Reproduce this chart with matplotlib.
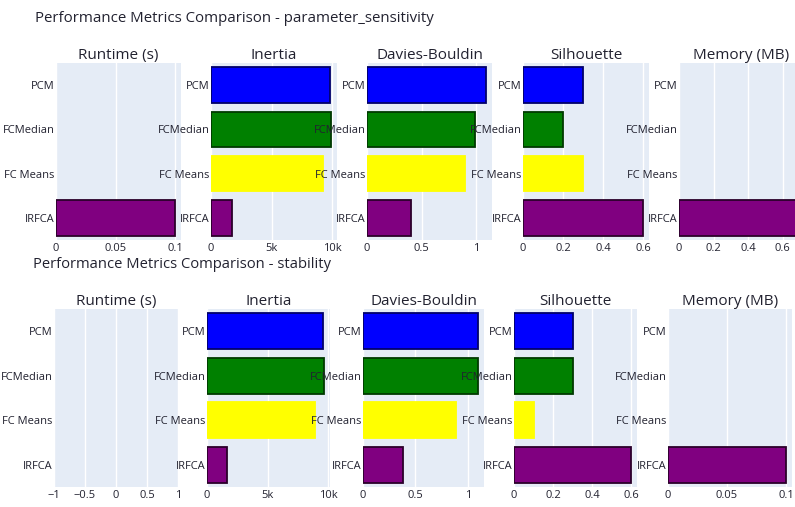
import numpy as np
import matplotlib
matplotlib.use('Agg')
import matplotlib.pyplot as plt
from matplotlib.ticker import MaxNLocator, FuncFormatter

plt.rcParams['font.family'] = ['Open Sans', 'DejaVu Sans']

# methods listed top to bottom as shown
methods = ['PCM', 'FCMedian', 'FC Means', 'IRFCA']
colors = ['blue', 'green', 'yellow', 'purple']
edges = ['#00006a', '#003a00', 'yellow', '#2a002a']
metrics = ['Runtime (s)', 'Inertia', 'Davies-Bouldin', 'Silhouette', 'Memory (MB)']

nan = np.nan
# parameter_sensitivity experiment
ps_runtime = [nan, nan, nan, 0.1]
ps_inertia = [9800, 9900, 9250, 1700]
ps_db = [1.09, 0.99, 0.90, 0.40]
ps_sil = [0.30, 0.20, 0.30, 0.60]
ps_mem = [nan, nan, nan, 0.69]

# stability experiment
st_runtime = [nan, nan, nan, nan]
st_inertia = [9600, 9680, 8930, 1650]
st_db = [1.10, 1.10, 0.89, 0.38]
st_sil = [0.30, 0.30, 0.10, 0.60]
st_mem = [nan, nan, nan, 0.1]

W, H = 795, 507
fig = plt.figure(figsize=(W / 100, H / 100), dpi=100)
txt = '#222230'


def px(x0, x1, y0, y1):
    return [x0 / W, 1 - y1 / H, (x1 - x0) / W, (y1 - y0) / H]


def fmt(v, pos):
    if abs(v) >= 1000:
        s = f'{v / 1000:g}k'
    else:
        s = f'{v:g}'
    return s.replace('-', '\u2212')


def draw_row(title, tx, ty, tsize, data, xs, y0, y1):
    fig.text(tx / W, 1 - ty / H, title, fontsize=tsize, color=txt, va='center', ha='left')
    for name, vals, (x0, x1) in zip(metrics, data, xs):
        ax = fig.add_axes(px(x0, x1, y0, y1))
        ax.set_facecolor('#E5ECF6')
        v = np.array(vals, dtype=float)
        pos = np.arange(len(methods))
        ok = ~np.isnan(v)
        if ok.any():
            ax.barh(pos[ok], v[ok], height=0.8,
                    color=[c for c, k in zip(colors, ok) if k],
                    edgecolor=[e for e, k in zip(edges, ok) if k],
                    linewidth=1.3, zorder=3)
            ax.set_xlim(0, np.nanmax(v) * 1.05)
        else:
            ax.set_xlim(-1, 1)
        ax.set_ylim(len(methods) - 0.5, -0.5)
        ax.set_yticks(pos)
        ax.set_yticklabels(methods)
        ax.xaxis.set_major_locator(MaxNLocator(nbins=4, steps=[1, 2, 5, 10]))
        ax.xaxis.set_major_formatter(FuncFormatter(fmt))
        ax.grid(axis='x', color='white', linewidth=1, zorder=0)
        ax.set_axisbelow(True)
        for s in ax.spines.values():
            s.set_visible(False)
        ax.tick_params(axis='both', length=0, labelsize=8, colors=txt)
        ax.tick_params(axis='y', pad=1)
        ax.tick_params(axis='x', pad=2)
        ax.set_title(name, fontsize=11, color=txt, pad=3)


draw_row('Performance Metrics Comparison - parameter_sensitivity', 35, 18, 10.8,
         [ps_runtime, ps_inertia, ps_db, ps_sil, ps_mem],
         [(56, 181), (211, 337), (367, 492), (523, 649), (679, 804)], 63, 240)
draw_row('Performance Metrics Comparison - stability', 33, 265, 10.6,
         [st_runtime, st_inertia, st_db, st_sil, st_mem],
         [(54, 178), (207, 330), (363, 484), (514, 637), (668, 792)], 309, 487)

fig.savefig('out.png', dpi=100, facecolor='white')
